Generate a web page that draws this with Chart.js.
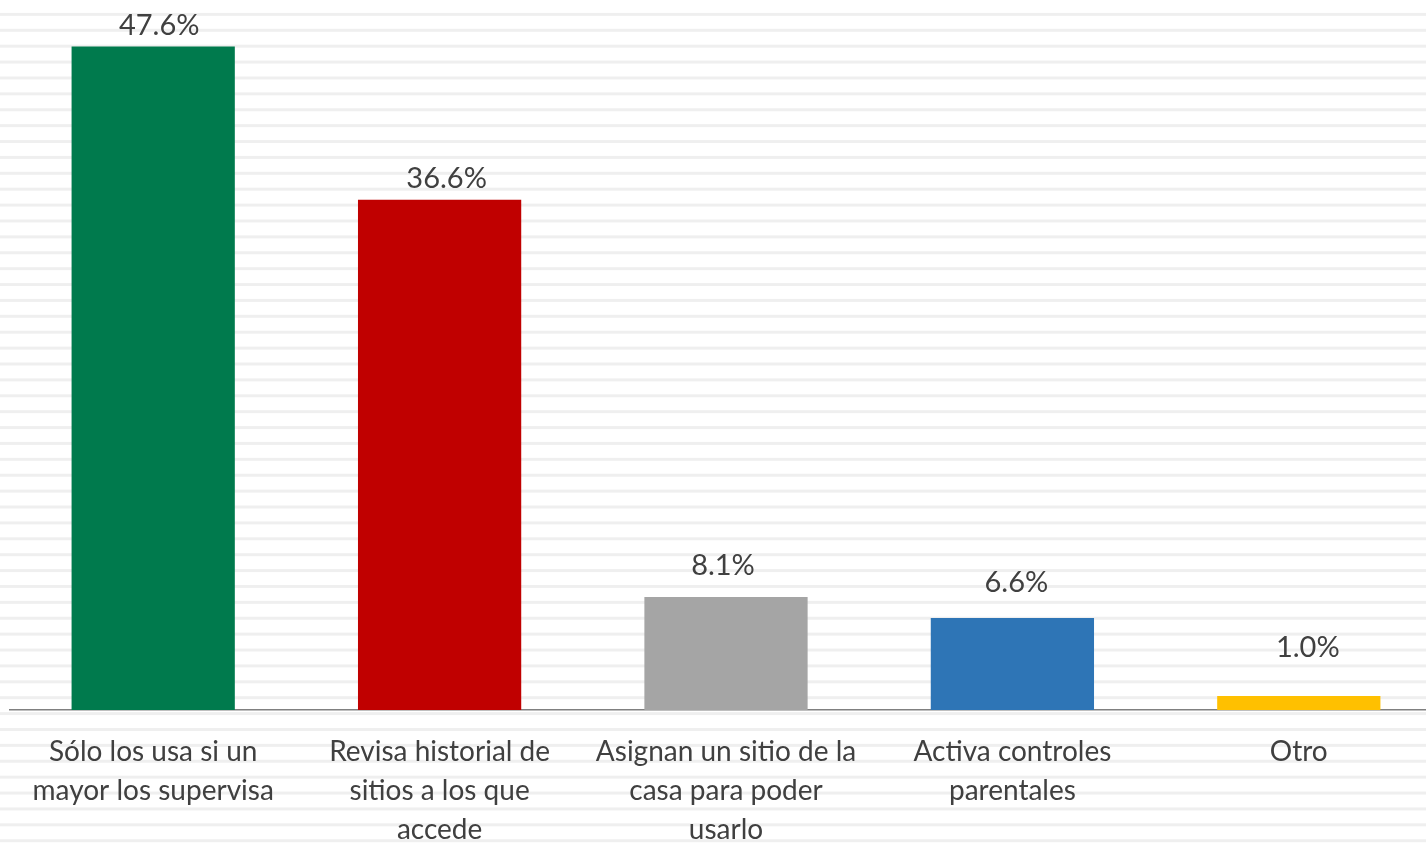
<!DOCTYPE html>
<html>
<head>
<meta charset="utf-8">
<script src="https://cdn.jsdelivr.net/npm/chart.js@4.4.0/dist/chart.umd.min.js"></script>
<style>
  html, body {
    margin: 0;
    padding: 0;
    width: 1426px;
    height: 844px;
    overflow: hidden;
    background-color: #ffffff;
    background-image: linear-gradient(to bottom,
      #ffffff 0px, #ffffff 13.3px, #efefef 13.3px, #efefef 18px, #ffffff 18px, #ffffff 15.9px);
    background-size: 100% 15.9px;
    background-position: 0 0;
  }
  .wrap {
    position: absolute;
    left: 0;
    top: 0;
    width: 1450px;
    height: 844px;
  }
</style>
</head>
<body>
<div class="wrap"><canvas id="chart"></canvas></div>
<script>
const categories = [
  ["Sólo los usa si un", "mayor los supervisa"],
  ["Revisa historial de", "sitios a los que", "accede"],
  ["Asignan un sitio de la", "casa para poder", "usarlo"],
  ["Activa controles", "parentales"],
  ["Otro"]
];
const values = [47.6, 36.6, 8.1, 6.6, 1.0];
const barColors = ["#007A4D", "#C00000", "#A5A5A5", "#2E75B6", "#FFC000"];
const yMax = 50;

const FONT = "Lato, 'Open Sans', sans-serif";

// the labels were nudged by hand in the original, keep those nudges
const labelShift = [
  { dx: 6, dy: 11 },
  { dx: 7, dy: 12 },
  { dx: -3, dy: 22 },
  { dx: 4, dy: 26 },
  { dx: 9, dy: 39 }
];

const valueLabels = {
  id: "valueLabels",
  afterDatasetsDraw(chart) {
    const ctx = chart.ctx;
    const meta = chart.getDatasetMeta(0);
    ctx.save();
    ctx.font = "29px " + FONT;
    ctx.fillStyle = "#404040";
    ctx.textAlign = "center";
    ctx.textBaseline = "alphabetic";
    meta.data.forEach((bar, i) => {
      const s = labelShift[i];
      ctx.fillText(values[i].toFixed(1) + "%", bar.x + s.dx, bar.y - s.dy);
    });
    ctx.restore();
  }
};

const ctx = document.getElementById("chart").getContext("2d");
new Chart(ctx, {
  type: "bar",
  data: {
    labels: categories,
    datasets: [
      {
        data: values,
        backgroundColor: barColors,
        borderWidth: 0,
        barPercentage: 0.57,
        categoryPercentage: 1.0
      }
    ]
  },
  options: {
    responsive: true,
    maintainAspectRatio: false,
    animation: false,
    layout: {
      padding: { left: 10, right: 8, top: 13, bottom: 0 }
    },
    plugins: {
      legend: { display: false },
      tooltip: { enabled: false }
    },
    scales: {
      x: {
        grid: { display: true, drawOnChartArea: false, drawTicks: false },
        border: { display: true, color: "#808080", width: 1.5 },
        ticks: {
          color: "#404040",
          font: { family: FONT, size: 28, lineHeight: "39px" },
          padding: 22,
          maxRotation: 0,
          autoSkip: false
        },
        afterFit: (scale) => {
          scale.height = 134;
        }
      },
      y: {
        display: false,
        min: 0,
        max: yMax
      }
    }
  },
  plugins: [valueLabels]
});
</script>
</body>
</html>
